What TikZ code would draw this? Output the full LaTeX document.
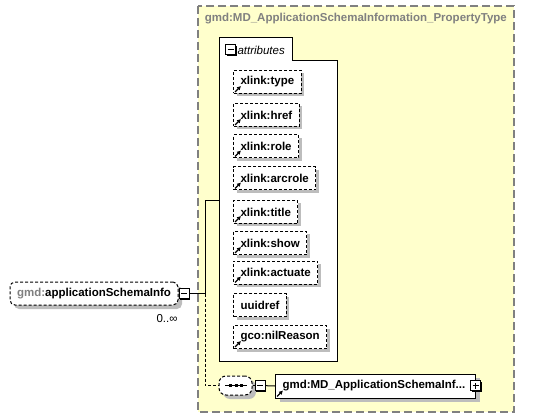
\documentclass[tikz,border=0pt]{standalone}
\usepackage{fontspec}
\setmainfont{Liberation Sans}
\usepackage{xcolor}
\definecolor{schemaFill}{HTML}{FFFFCC}
\definecolor{schemaGrey}{HTML}{808080}
\definecolor{shadowGrey}{HTML}{BDBDBD}
\usetikzlibrary{shadows,arrows.meta}
\newcommand\tsz{\fontsize{11.5}{13}\selectfont}

\begin{document}
\begin{tikzpicture}[x=1pt, y=-1pt, line width=1pt,
  attr/.style={draw, fill=white, dash pattern=on 3pt off 2pt, anchor=west, minimum height=23pt, inner xsep=7pt, font=\bfseries\tsz, drop shadow={shadow xshift=3pt, shadow yshift=-3pt, fill=shadowGrey, opacity=1}},
  toggle/.style={draw, fill=white, minimum size=10pt, inner sep=0pt, drop shadow={shadow xshift=1.2pt, shadow yshift=-1.2pt, fill=black, opacity=1}},
  minus/.style={toggle, path picture={\draw ([xshift=2pt]path picture bounding box.west) -- ([xshift=-2pt]path picture bounding box.east);}},
  plus/.style={toggle, path picture={\draw ([xshift=2pt]path picture bounding box.west) -- ([xshift=-2pt]path picture bounding box.east); \draw ([yshift=2pt]path picture bounding box.south) -- ([yshift=-2pt]path picture bounding box.north);}},
  refmark/.style={-{Latex[length=4pt,width=4.5pt]}, line width=1.2pt}]
  \useasboundingbox (0,0) rectangle (550,420);
  % property type container
  \filldraw[fill=schemaFill, draw=schemaGrey, line width=1.2pt, dash pattern=on 8pt off 4pt] (198,6) rectangle (514,412);
  \node[anchor=west, text=schemaGrey, font=\bfseries\tsz] (ptype) at (201,19) {gmd:MD\_ApplicationSchemaInformation\_PropertyType};
  % attribute group
  \filldraw[fill=white, draw=black] (219,38) -- (292,38) -- (292,61) -- (337,61) -- (337,361) -- (219,361) -- cycle;
  \node[minus] (attrMinus) at (230.5,50) {};
  \node[anchor=west, inner sep=1pt, font=\itshape\tsz] (attrLabel) at (236,50) {attributes};
  \coordinate (attrIn) at (219,201);
  \node[attr] (xType) at (233,82) {xlink:type};
  \node[attr] (xHref) at (233,115) {xlink:href};
  \node[attr] (xRole) at (233,146.5) {xlink:role};
  \node[attr] (xArcrole) at (233,178.5) {xlink:arcrole};
  \node[attr] (xTitle) at (233,212) {xlink:title};
  \node[attr] (xShow) at (233,243) {xlink:show};
  \node[attr] (xActuate) at (233,272.5) {xlink:actuate};
  \node[attr] (uuidref) at (233,305) {uuidref};
  \node[attr] (nilReason) at (233,337) {gco:nilReason};
  \draw[refmark] ([shift={(2,-2)}]xType.south west) -- ++(6,-6);
  \draw[refmark] ([shift={(2,-2)}]xHref.south west) -- ++(6,-6);
  \draw[refmark] ([shift={(2,-2)}]xRole.south west) -- ++(6,-6);
  \draw[refmark] ([shift={(2,-2)}]xArcrole.south west) -- ++(6,-6);
  \draw[refmark] ([shift={(2,-2)}]xTitle.south west) -- ++(6,-6);
  \draw[refmark] ([shift={(2,-2)}]xShow.south west) -- ++(6,-6);
  \draw[refmark] ([shift={(2,-2)}]xActuate.south west) -- ++(6,-6);
  \draw[refmark] ([shift={(2,-2)}]nilReason.south west) -- ++(6,-6);
  % element
  \node[draw, fill=white, dash pattern=on 3pt off 2pt, rounded corners=5pt, minimum width=168pt, minimum height=23pt, inner xsep=6pt, font=\bfseries\tsz, drop shadow={shadow xshift=4pt, shadow yshift=-4pt, fill=shadowGrey, opacity=1}] (appInfo) at (94,293.5) {\textcolor{schemaGrey}{gmd:}applicationSchemaInfo};
  \node[minus] (appMinus) at (184,293.5) {};
  \node[font=\tsz, inner sep=1pt] (appCard) at (167,319) {0..∞};
  \coordinate (jn) at (205,293.5);
  % sequence
  \node[draw, fill=white, dash pattern=on 3pt off 2pt, rounded corners=7pt, minimum width=33pt, minimum height=19pt, drop shadow={shadow xshift=4pt, shadow yshift=-4pt, fill=shadowGrey, opacity=1}] (seq) at (235.5,385.5) {};
  \draw (225,385.5) -- (247,385.5);
  \fill (229,384) rectangle ++(3,3);
  \fill (234.5,384) rectangle ++(3,3);
  \fill (240,384) rectangle ++(3,3);
  \node[minus] (seqMinus) at (260,385.5) {};
  \node[draw, fill=white, anchor=west, text width=186pt, align=left, inner xsep=7pt, minimum height=24pt, font=\bfseries\tsz, drop shadow={shadow xshift=4pt, shadow yshift=-4pt, fill=shadowGrey, opacity=1}] (appType) at (275,386) {gmd:MD\_ApplicationSchemaInf...};
  \draw[refmark] ([shift={(2,-2)}]appType.south west) -- ++(6,-6);
  \node[plus] (appPlus) at (475.5,385.5) {};
  % connectors
  \draw (appMinus) -- (jn) |- (attrIn);
  \draw[dash pattern=on 3pt off 2pt] (jn) |- (seq.west);
  \draw (seq.east) -- (seqMinus);
  \draw (seqMinus) -- (appType.west);
\end{tikzpicture}
\end{document}
